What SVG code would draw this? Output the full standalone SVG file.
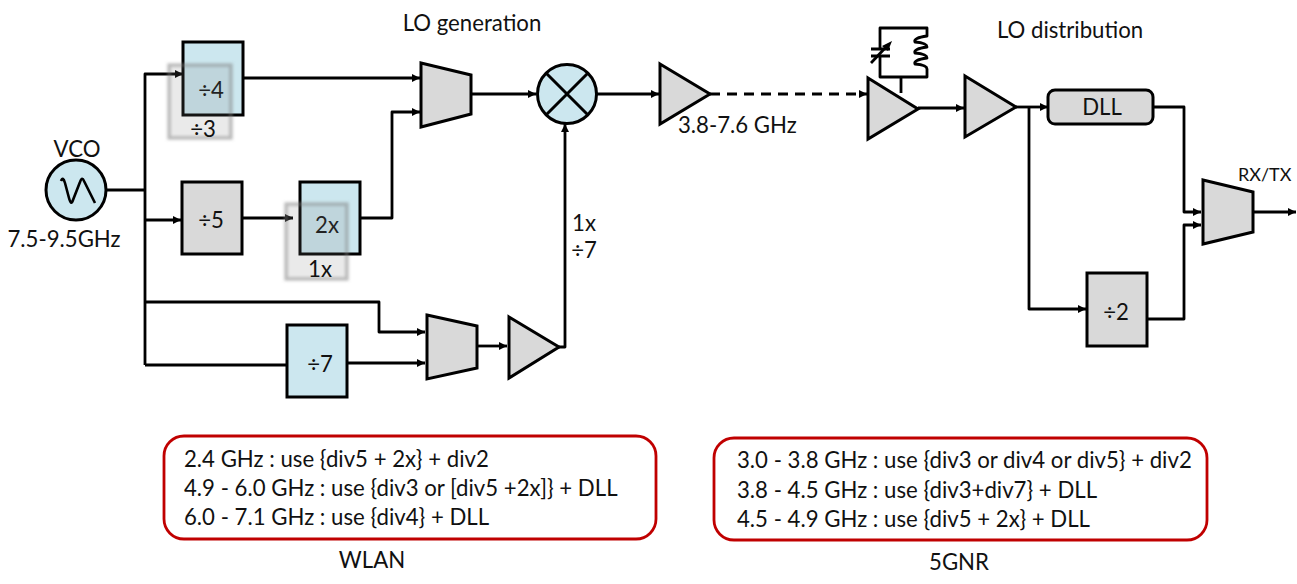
<svg xmlns="http://www.w3.org/2000/svg" width="1297" height="584" viewBox="0 0 1297 584">
<defs>
<marker id="a" markerUnits="userSpaceOnUse" markerWidth="9" markerHeight="10" refX="8" refY="5" orient="auto"><path d="M0 1 L8 5 L0 9 Z" fill="#000"/></marker>
<filter id="b" x="-20%" y="-20%" width="140%" height="140%"><feGaussianBlur stdDeviation="1.4"/></filter>
</defs>
<style>
text{font-family:Lato,"Liberation Sans",sans-serif;font-size:22.2px;fill:#111}
.m{text-anchor:middle}
.g{fill:#d9d9d9;stroke:#000;stroke-width:3;stroke-linejoin:miter}
.u{fill:#cce7ef;stroke:#000;stroke-width:3}
.w{fill:none;stroke:#000;stroke-width:2.8;stroke-linejoin:round}
.ar{marker-end:url(#a)}
.r{fill:#fff;stroke:#c00000;stroke-width:2.8}
.ghost{fill:#7f7f7f;fill-opacity:.16;stroke:#7f7f7f;stroke-opacity:.5;stroke-width:3.5;filter:url(#b)}
</style>
<rect width="1297" height="584" fill="#fff"/>
<g id="connectors">
<path class="w" d="M107 190H145"/>
<path class="w ar" d="M145 365V74H183"/>
<path class="w ar" d="M145 220H181"/>
<path class="w ar" d="M242 218H293"/>
<path class="w ar" d="M243 78H420"/>
<path class="w ar" d="M360 218H392V112H420"/>
<path class="w ar" d="M471 94H536"/>
<path class="w ar" d="M597 94H659"/>
<path class="w ar" d="M710 94H867" stroke-dasharray="10 7"/>
<path class="w ar" d="M145 302H379V332H425"/>
<path class="w" d="M145 365H287"/>
<path class="w ar" d="M347 363H425"/>
<path class="w ar" d="M477 346H507"/>
<path class="w ar" d="M559 347H565V124"/>
<path class="w ar" d="M918 108H964"/>
<path class="w ar" d="M1016 107H1048"/>
<path class="w ar" d="M1029 107V309H1086"/>
<path class="w ar" d="M1153 107H1184V212H1201"/>
<path class="w ar" d="M1147 319H1184V225H1201"/>
<path class="w ar" d="M1253 212H1296"/>
</g>
<g id="vco"><circle class="u" cx="76" cy="190" r="30"/><path d="M61 181Q63 176 65 183L69 198Q71 206 73 200L80 182Q82 176 84 181L95 203" fill="none" stroke="#000" stroke-width="2.6"/><text class="m" x="77" y="157">VCO</text><text class="m" x="64" y="247">7.5-9.5GHz</text></g>
<g id="div4"><rect class="u" x="183" y="42" width="60" height="73"/><text class="m" x="211" y="98">÷4</text></g>
<g id="div3-ghost"><rect class="ghost" x="169" y="65" width="62" height="73"/><text class="m" x="203" y="137">÷3</text></g>
<g id="div5"><rect class="g" x="182" y="182" width="60" height="72"/><text class="m" x="211" y="228">÷5</text></g>
<g id="x2"><rect class="u" x="300" y="182" width="60" height="72"/><text class="m" x="327" y="233">2x</text></g>
<g id="x1-ghost"><rect class="ghost" x="286" y="204" width="61" height="75"/><text class="m" x="320" y="277">1x</text></g>
<g id="div7"><rect class="u" x="287" y="325" width="60" height="72"/><text class="m" x="320" y="372">÷7</text></g>
<g id="mux1"><path class="g" d="M421 63L471 75V114L421 127Z"/></g>
<g id="mixer"><circle class="u" cx="567" cy="94" r="29.5"/><path d="M546 73L588 115M588 73L546 115" stroke="#000" stroke-width="3"/></g>
<g id="amp1"><path class="g" d="M660 64L710 94L660 124Z"/><text x="678" y="133">3.8-7.6 GHz</text></g>
<g id="mux2"><path class="g" d="M427 315L477 326V368L427 379Z"/></g>
<g id="amp2"><path class="g" d="M509 317L559 347L509 378Z"/></g>
<g id="amp3"><path class="g" d="M868 78L918 109L868 139Z"/></g>
<g id="tank" fill="none" stroke="#000" stroke-width="2.8" stroke-linejoin="round"><path d="M901 93V77M880 49V28H927V36Q913 38 915 42Q927 43 927 47Q913 49 915 53Q927 54 927 58Q913 60 915 64Q927 65 927 69V77H880V56"/><path d="M871 49H890M871 56H890"/><path d="M871 63L887 46"/><path d="M892 41L882 46L888 51Z" fill="#000" stroke="none"/></g>
<g id="amp4"><path class="g" d="M965 76L1016 107L965 137Z"/></g>
<g id="dll"><rect class="g" x="1048" y="90" width="105" height="34" rx="7"/><text class="m" x="1102" y="115">DLL</text></g>
<g id="div2"><rect class="g" x="1087" y="273" width="60" height="73"/><text class="m" x="1116" y="320">÷2</text></g>
<g id="mux3"><path class="g" d="M1203 180L1253 192V232L1203 244Z"/></g>
<text class="m" x="472" y="31">LO generation</text>
<text class="m" x="1070" y="38">LO distribution</text>
<text x="1238" y="181" style="font-size:18px">RX/TX</text>
<text class="m" x="584" y="231">1x</text>
<text class="m" x="584" y="258">÷7</text>
<g id="wlan"><rect class="r" x="164" y="436" width="492" height="103" rx="20"/><text x="184" y="467">2.4 GHz : use {div5 + 2x} + div2</text><text x="184" y="496">4.9 - 6.0 GHz : use {div3 or [div5 +2x]} + DLL</text><text x="184" y="525">6.0 - 7.1 GHz : use {div4} + DLL</text><text class="m" x="372" y="568">WLAN</text></g>
<g id="nr"><rect class="r" x="714" y="438" width="493" height="102" rx="20"/><text x="737" y="468">3.0 - 3.8 GHz : use {div3 or div4 or div5} + div2</text><text x="737" y="498">3.8 - 4.5 GHz : use {div3+div7} + DLL</text><text x="737" y="527">4.5 - 4.9 GHz : use {div5 + 2x} + DLL</text><text class="m" x="959" y="570">5GNR</text></g>
</svg>
